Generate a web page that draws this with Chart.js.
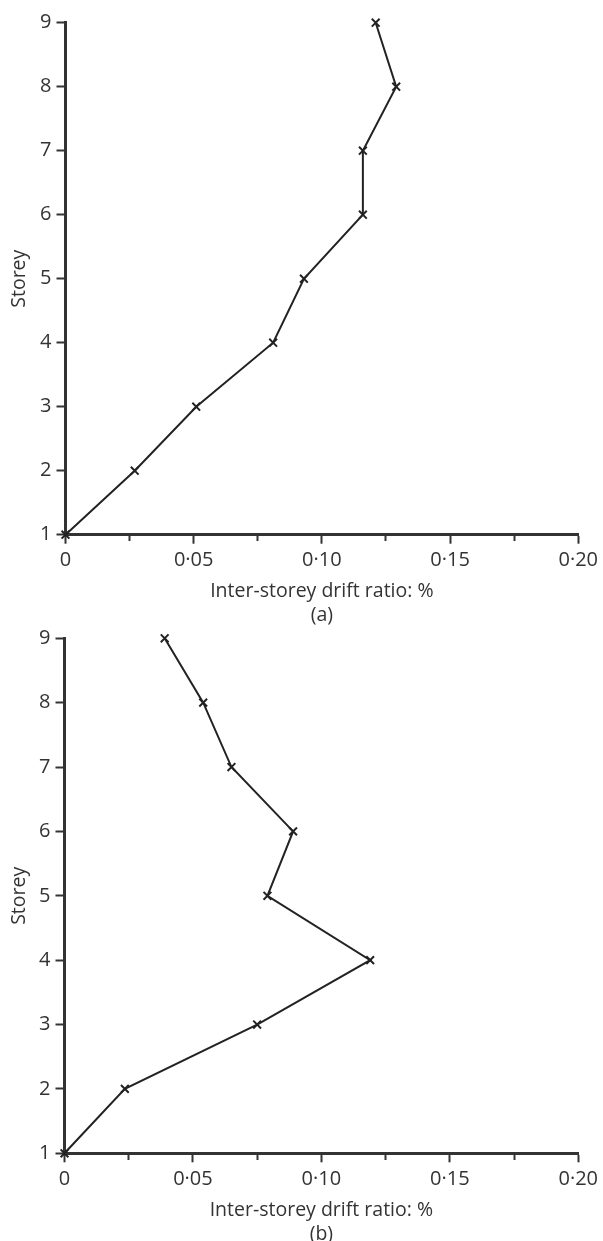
<!DOCTYPE html>
<html>
<head>
<meta charset="utf-8">
<script src="https://cdn.jsdelivr.net/npm/chart.js@4/dist/chart.umd.min.js"></script>
<style>
  html, body { margin: 0; padding: 0; background: #fff; overflow: hidden; }
  body { width: 603px; height: 1241px; position: relative; }
  canvas { position: absolute; left: 0; }
  #chart-a { top: 0; }
  #chart-b { top: 619px; }
</style>
</head>
<body>
<canvas id="chart-a" width="603" height="630"></canvas>
<canvas id="chart-b" width="603" height="630"></canvas>
<script>
// storey numbers (y) and drift ratios in % (x)
const storeys = [1, 2, 3, 4, 5, 6, 7, 8, 9];
const driftA = [0, 0.027, 0.051, 0.081, 0.093, 0.116, 0.116, 0.129, 0.121];
const driftB = [0, 0.0235, 0.075, 0.119, 0.079, 0.089, 0.065, 0.054, 0.039];
const xMin = 0, xMax = 0.20, xStep = 0.025;
const yMin = 1, yMax = 9;
const xTitle = 'Inter-storey drift ratio: %';
const yTitle = 'Storey';

const ink = '#333';
const FONT = "'Open Sans', 'Noto Sans', sans-serif";

function fmtTick(v) {
    if (Math.abs(v) < 1e-9) return '0';
    return v.toFixed(2).replace('.', '\u00b7');
}

function makeChart(id, drift, caption, box) {
    const ctx = document.getElementById(id).getContext('2d');
    const canvasH = ctx.canvas.height;
    return new Chart(ctx, {
        type: 'scatter',
        data: {
            datasets: [{
                data: storeys.map((s, i) => ({ x: drift[i], y: s })),
                showLine: true,
                borderColor: '#222',
                borderWidth: 2,
                pointStyle: 'crossRot',
                pointRadius: 5.5,
                pointBorderWidth: 2,
                pointBorderColor: '#222',
                pointBackgroundColor: '#222',
                clip: false
            }]
        },
        options: {
            responsive: false,
            animation: false,
            events: [],
            layout: { padding: { top: box.top, right: 21, bottom: 0, left: 0 } },
            plugins: { legend: { display: false }, tooltip: { enabled: false } },
            scales: {
                x: {
                    type: 'linear',
                    min: xMin,
                    max: xMax,
                    afterFit: s => { s.height = canvasH - box.bottom; },
                    border: { display: true, color: ink, width: 3 },
                    grid: {
                        drawOnChartArea: false,
                        drawTicks: true,
                        tickLength: 9,
                        tickWidth: 2,
                        tickColor: ink,
                        tickBorderDash: c => (c.index % 2 ? [5, 20] : [])
                    },
                    ticks: {
                        stepSize: xStep,
                        autoSkip: false,
                        maxRotation: 0,
                        padding: 5,
                        color: ink,
                        font: { family: FONT, size: 20, lineHeight: 1.2 },
                        callback: (v, i) => (i % 2 ? '' : fmtTick(v))
                    },
                    title: {
                        display: true,
                        text: [xTitle, caption],
                        color: ink,
                        padding: { top: 0, bottom: 3 },
                        font: { family: FONT, size: 19.5, lineHeight: 1.23 }
                    }
                },
                y: {
                    type: 'linear',
                    min: yMin,
                    max: yMax,
                    afterFit: s => { s.width = box.left; },
                    border: { display: true, color: ink, width: 3 },
                    grid: {
                        drawOnChartArea: false,
                        drawTicks: true,
                        tickLength: 9,
                        tickWidth: 2,
                        tickColor: ink
                    },
                    ticks: {
                        stepSize: 1,
                        padding: 5,
                        color: ink,
                        font: { family: FONT, size: 20, lineHeight: 1.2 }
                    },
                    title: {
                        display: true,
                        text: yTitle,
                        color: ink,
                        padding: { top: 8, bottom: 0 },
                        font: { family: FONT, size: 19.5, lineHeight: 1.2 }
                    }
                }
            }
        }
    });
}

makeChart('chart-a', driftA, '(a)', { top: 22.7, left: 65.5, bottom: 534.7 });
makeChart('chart-b', driftB, '(b)', { top: 19.3, left: 64.5, bottom: 534.3 });
</script>
</body>
</html>
